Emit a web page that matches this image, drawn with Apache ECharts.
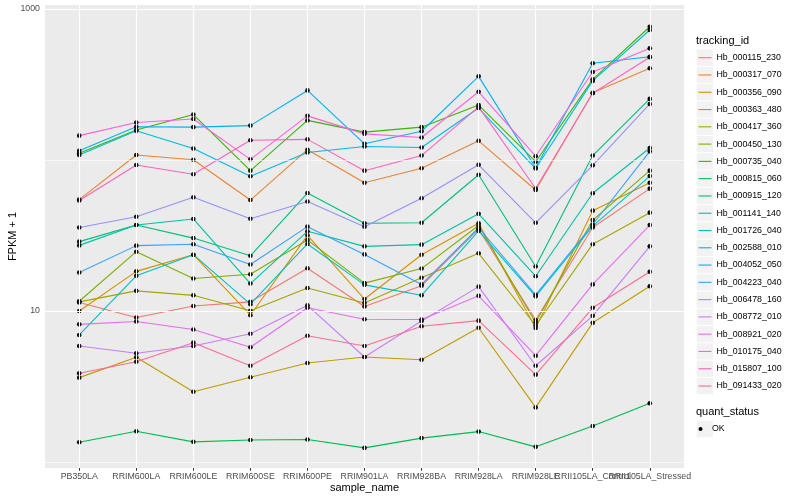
<!DOCTYPE html>
<html>
<head>
<meta charset="utf-8">
<script src="https://cdn.jsdelivr.net/npm/echarts@6.0.0/dist/echarts.min.js"></script>
<style>
html,body{margin:0;padding:0;background:#fff;}
#chart{width:800px;height:500px;}
</style>
</head>
<body>
<div id="chart"></div>
<script>
// ---- data ----
const categories = ['PB350LA','RRIM600LA','RRIM600LE','RRIM600SE','RRIM600PE','RRIM901LA','RRIM928BA','RRIM928LA','RRIM928LE','RRII105LA_Control','RRII105LA_Stressed'];
const trackingIds = ['Hb_000115_230','Hb_000317_070','Hb_000356_090','Hb_000363_480','Hb_000417_360','Hb_000450_130','Hb_000735_040','Hb_000815_060','Hb_000915_120','Hb_001141_140','Hb_001726_040','Hb_002588_010','Hb_004052_050','Hb_004223_040','Hb_006478_160','Hb_008772_010','Hb_008921_020','Hb_010175_040','Hb_015807_100','Hb_091433_020'];
const yTickLabels = [10, 1000];
const yMinorLines = [1, 100];

const hb000115_230 = [11.4, 9.06, 10.8, 11.5, 19.2, 10.7, 14.7, 34.8, 8.72, 35.7, 64.6];
const hb000317_070 = [54.7, 108, 100.5, 54.3, 117, 70.7, 88.1, 134, 63.3, 279, 405];
const hb000356_090 = [10.0, 18.3, 23.6, 9.38, 31.7, 12.0, 23.6, 38.1, 7.72, 46.2, 70.7];
const hb000363_480 = [3.62, 4.94, 2.92, 3.64, 4.52, 4.96, 4.76, 7.75, 2.30, 8.35, 14.6];
const hb000417_360 = [11.5, 13.6, 12.7, 10.05, 14.2, 11.3, 16.6, 24.1, 8.02, 27.7, 44.8];
const hb000450_130 = [11.6, 24.7, 16.4, 17.5, 29.5, 15.3, 19.1, 36.8, 8.39, 40.0, 85.0];
const hb000735_040 = [111, 158, 200, 85, 183, 153, 165, 231, 97.4, 342, 763];
const hb000815_060 = [1.35, 1.60, 1.36, 1.40, 1.41, 1.24, 1.44, 1.59, 1.26, 1.73, 2.45];
const hb000915_120 = [28.8, 37.1, 30.4, 23.2, 60.4, 38.1, 38.4, 79.9, 19.7, 107, 254];
const hb001141_140 = [27.2, 37.1, 40.7, 15.2, 33.7, 26.8, 27.5, 44.0, 17.0, 60.2, 120];
const hb001726_040 = [6.94, 17.1, 23.6, 11.1, 27.8, 14.9, 12.7, 33.9, 12.5, 36.5, 78.3];
const hb002588_010 = [108, 156, 119, 78, 112, 123, 121, 221, 87.8, 334, 726];
const hb004052_050 = [115, 166, 165, 169, 289, 128, 155, 358, 88.9, 437, 483];
const hb004223_040 = [18.0, 27.1, 27.7, 20.3, 36.2, 23.7, 15.0, 35.6, 12.8, 37.4, 114];
const hb006478_160 = [35.7, 42.1, 56.6, 40.8, 53.1, 36.2, 55.8, 92.9, 38.4, 92.2, 235];
const hb008772_010 = [5.86, 5.25, 5.86, 7.07, 10.9, 4.96, 8.59, 14.5, 4.34, 9.29, 26.8];
const hb008921_020 = [8.16, 8.52, 7.54, 5.75, 10.5, 8.81, 8.78, 12.6, 5.06, 15.0, 37.1];
const hb010175_040 = [145, 177, 187, 101, 196, 149, 141, 283, 106, 383, 549];
const hb015807_100 = [53.9, 92.7, 80.4, 135, 137, 85.0, 107, 225, 64.8, 277, 479];
const hb091433_020 = [3.87, 4.61, 6.17, 4.34, 6.86, 5.86, 7.93, 8.63, 3.79, 10.5, 18.2];

const seriesValues = [hb000115_230, hb000317_070, hb000356_090, hb000363_480, hb000417_360, hb000450_130, hb000735_040, hb000815_060, hb000915_120, hb001141_140, hb001726_040, hb002588_010, hb004052_050, hb004223_040, hb006478_160, hb008772_010, hb008921_020, hb010175_040, hb015807_100, hb091433_020];

const colors = ['#F8766D','#EA8331','#D89000','#C09B00','#A3A500','#7CAE00','#39B600','#00BB4E','#00BF7D','#00C1A3','#00BFC4','#00BAE0','#00B0F6','#35A2FF','#9590FF','#C77CFF','#E76BF3','#FA62DB','#FF62BC','#FF6C91'];

// ---- build ----
const FONT = '"Liberation Sans", Arial, Helvetica, sans-serif';
const xTicks = categories.map((c, i) => i);
// labels split over two axes so that ECharts does not drop overlapping neighbours
const xLabelsA = xTicks.filter(i => i !== 9);
const xLabelsB = [9];

const lineSeries = trackingIds.map((id, k) => ({
  name: id,
  type: 'line',
  xAxisIndex: 0,
  data: seriesValues[k].map((v, i) => [i, v]),
  showSymbol: false,
  symbol: 'none',
  color: colors[k],
  lineStyle: { color: colors[k], width: 1.1 },
  z: 2,
  silent: true
}));

const pointData = [];
seriesValues.forEach(arr => arr.forEach((v, i) => pointData.push([i, v])));

const gridLines = [];
xTicks.forEach(i => gridLines.push({ xAxis: i, lineStyle: { color: '#FFFFFF', width: 1.2, type: 'solid' } }));
yTickLabels.forEach(v => gridLines.push({ yAxis: v, lineStyle: { color: '#FFFFFF', width: 1.2, type: 'solid' } }));
yMinorLines.forEach(v => gridLines.push({ yAxis: v, lineStyle: { color: '#FFFFFF', width: 0.6, type: 'solid' } }));

const legendTop = 49.06, step = 17.28;
const graphics = [];
trackingIds.forEach((id, k) => graphics.push({
  type: 'rect', silent: true, z: 0,
  shape: { x: 696.7, y: legendTop + k * step + 0.5, width: 16.3, height: 16.3 },
  style: { fill: '#F2F2F2' }
}));
graphics.push({ type: 'rect', silent: true, z: 0, shape: { x: 696.7, y: 420.9, width: 16.3, height: 16.3 }, style: { fill: '#F2F2F2' } });
graphics.push({ type: 'text', silent: true, z: 0, x: 696, y: 40.7, style: { text: 'tracking_id', font: '11px ' + FONT, fill: '#000', verticalAlign: 'middle', align: 'left' } });
graphics.push({ type: 'text', silent: true, z: 0, x: 696, y: 412, style: { text: 'quant_status', font: '11px ' + FONT, fill: '#000', verticalAlign: 'middle', align: 'left' } });

const labelStyle = { fontSize: 8.8, color: '#4D4D4D', margin: 4, fontFamily: FONT, hideOverlap: false,
  showMinLabel: true, showMaxLabel: true, formatter: v => categories[Math.round(v)] };

const option = {
  animation: false,
  backgroundColor: '#FFFFFF',
  textStyle: { fontFamily: FONT },
  grid: { left: 45, right: 116, top: 5, bottom: 32, show: true, backgroundColor: '#EBEBEB', borderWidth: 0, containLabel: false, outerBoundsMode: 'none' },
  xAxis: [{
    type: 'value', min: -0.6, max: 10.6,
    axisLine: { show: false },
    splitLine: { show: false },
    axisTick: { show: true, length: 2.75, customValues: xTicks, lineStyle: { color: '#333333', width: 1 } },
    axisLabel: Object.assign({ customValues: xLabelsA }, labelStyle),
    name: 'sample_name', nameLocation: 'middle', nameGap: 14, nameMoveOverlap: false,
    nameTextStyle: { fontSize: 11, color: '#000', fontFamily: FONT }
  }, {
    type: 'value', min: -0.6, max: 10.6, position: 'bottom', offset: 0,
    axisLine: { show: false },
    splitLine: { show: false },
    axisTick: { show: false },
    axisLabel: Object.assign({ customValues: xLabelsB }, labelStyle)
  }],
  yAxis: {
    type: 'log', logBase: 10, min: 0.9126, max: 1063,
    axisLine: { show: false },
    splitLine: { show: false },
    axisTick: { show: true, length: 2.75, customValues: yTickLabels, lineStyle: { color: '#333333', width: 1 } },
    axisLabel: { customValues: yTickLabels, showMinLabel: true, showMaxLabel: true,
      formatter: v => String(Math.round(v)), fontSize: 8.8, color: '#4D4D4D', margin: 5, fontFamily: FONT },
    name: 'FPKM + 1', nameLocation: 'middle', nameGap: 26.5, nameRotate: 90, nameMoveOverlap: false,
    nameTextStyle: { fontSize: 11, color: '#000', fontFamily: FONT }
  },
  legend: [{
    orient: 'vertical', left: 698.5, top: legendTop, padding: 0, itemGap: 0,
    itemWidth: 13, itemHeight: 1.1, icon: 'rect', selectedMode: false, z: 10,
    textStyle: { fontSize: 8.8, color: '#000', fontFamily: FONT, lineHeight: step },
    data: trackingIds.map((id, k) => ({ name: id, itemStyle: { color: colors[k] } }))
  }, {
    orient: 'vertical', left: 698.5, top: 420.4, padding: 0, itemGap: 0,
    itemWidth: 13, itemHeight: 4, icon: 'circle', selectedMode: false, z: 10,
    textStyle: { fontSize: 8.8, color: '#000', fontFamily: FONT, lineHeight: step },
    data: [{ name: 'OK', itemStyle: { color: '#000' } }]
  }],
  graphic: graphics,
  series: [
    { name: '__grid', type: 'line', xAxisIndex: 0, data: [], z: 0, silent: true,
      markLine: { silent: true, symbol: ['none', 'none'], animation: false, label: { show: false }, data: gridLines } },
    ...lineSeries,
    { name: 'OK', type: 'scatter', xAxisIndex: 0, data: pointData, symbol: 'circle', symbolSize: 4.6, itemStyle: { color: '#000000', opacity: 1 }, z: 3, silent: true }
  ]
};

const chart = echarts.init(document.getElementById('chart'));
chart.setOption(option);
</script>
</body>
</html>
